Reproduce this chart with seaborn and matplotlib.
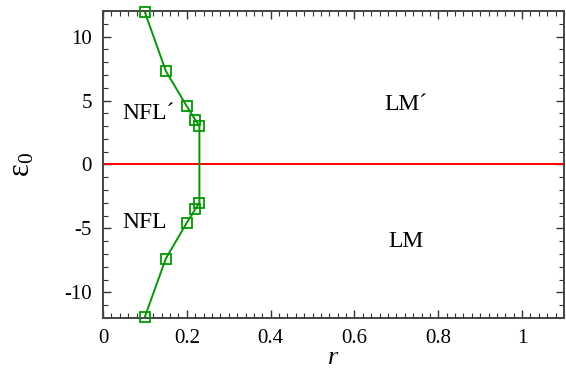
import numpy as np
import matplotlib
matplotlib.use('Agg')
import matplotlib.pyplot as plt
import seaborn as sns
from matplotlib.ticker import MultipleLocator

# data
r_vals = [0.10, 0.15, 0.20, 0.22, 0.23, 0.23, 0.22, 0.20, 0.15, 0.10]
eps_vals = [11.9, 7.3, 4.55, 3.5, 3.0, -3.0, -3.5, -4.55, -7.35, -11.9]
region_labels = ['NFL\u00b4', 'NFL', 'LM\u00b4', 'LM']
label_r = [0.045, 0.045, 0.672, 0.68]
label_eps = [4.0, -4.5, 4.7, -6.0]

sns.set_style('ticks')
plt.rcParams['font.family'] = ['Liberation Serif', 'DejaVu Serif']
plt.rcParams['mathtext.fontset'] = 'custom'
plt.rcParams['mathtext.rm'] = 'Liberation Serif'
plt.rcParams['mathtext.it'] = 'Liberation Serif:italic'
plt.rcParams['axes.unicode_minus'] = False
plt.rcParams['text.color'] = 'black'
plt.rcParams['axes.labelcolor'] = 'black'
plt.rcParams['xtick.labelcolor'] = 'black'
plt.rcParams['ytick.labelcolor'] = 'black'

fig = plt.figure(figsize=(5.66, 3.73), dpi=100)
ax = fig.add_axes([0.182, 0.1475, 0.8145, 0.823])

green = '#009a00'
sns.lineplot(x=r_vals, y=eps_vals, sort=False, estimator=None, ax=ax,
             color=green, lw=1.4, marker='s', markersize=7.5,
             markerfacecolor='none', markeredgecolor=green,
             markeredgewidth=1.3, clip_on=False, zorder=3)
ax.axhline(0, color='#ff0000', lw=1.4)

for txt, x, y in zip(region_labels, label_r, label_eps):
    ax.text(x, y, txt, fontsize=17, va='center', ha='left')

ax.set_xlim(0, 1.1)
ax.set_ylim(-12, 12)
ax.xaxis.set_minor_locator(MultipleLocator(0.02))
ax.yaxis.set_major_locator(MultipleLocator(5))
ax.yaxis.set_minor_locator(MultipleLocator(1))
ax.set_xticks([0, 0.2, 0.4, 0.6, 0.8, 1.0])
ax.set_xticklabels(['0', '0.2', '0.4', '0.6', '0.8', '1'])
ax.tick_params(which='both', direction='in', top=True, right=True,
               labelsize=15, color='#333333')
ax.tick_params(which='major', length=6, width=1.0, pad=8)
ax.tick_params(which='minor', length=3.5, width=0.8)
for s in ax.spines.values():
    s.set_linewidth(1.4)
    s.set_color('#444444')

ax.set_xlabel('$r$', fontsize=19, labelpad=-1)
ax.set_ylabel('\u03b5$_0$', fontsize=22, labelpad=20)

fig.savefig('out.png', dpi=100)
